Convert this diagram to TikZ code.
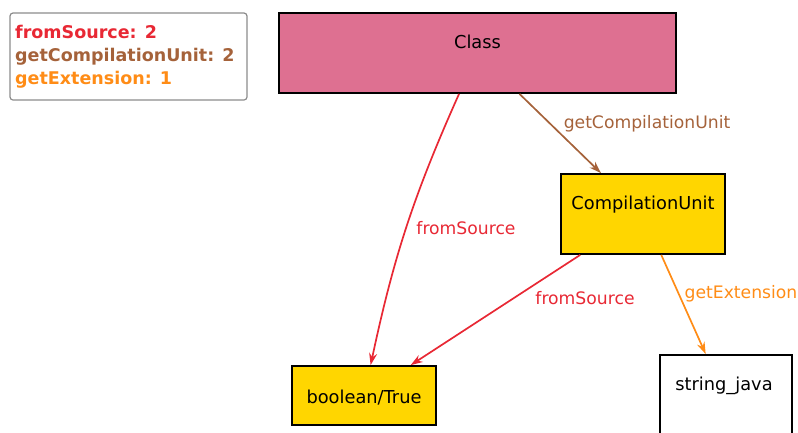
\documentclass[tikz,border=0pt]{standalone}
\usepackage{fontspec}
\setmainfont{DejaVu Sans}
\usetikzlibrary{arrows.meta,calc}
\definecolor{cred}{RGB}{232,40,52}
\definecolor{cbrown}{RGB}{165,98,58}
\definecolor{corange}{RGB}{255,140,22}
\definecolor{cpink}{RGB}{222,112,145}
\definecolor{cgold}{RGB}{255,214,0}
\definecolor{cgrey}{RGB}{140,140,140}
\begin{document}
\begin{tikzpicture}[x=1pt,y=-1pt,
  box/.style={draw=black,line width=1.8pt,inner sep=0pt,minimum width=#1},
  txt/.style={anchor=base,inner sep=0pt,font=\fontsize{17.8}{20}\selectfont},
  elab/.style={anchor=base,inner sep=0pt,font=\fontsize{17.2}{20}\selectfont},
  leg/.style={anchor=base west,inner sep=0pt,font=\fontsize{17.5}{20}\selectfont\bfseries},
  edge/.style={line width=1.7pt,-{Stealth[length=12pt,width=8pt]}}]
\useasboundingbox (0,0) rectangle (798,432);
% legend
\node[draw=cgrey,line width=1.2pt,rounded corners=3pt,minimum width=237pt,minimum height=87pt,inner sep=0pt] (legend) at (128.5,56.5) {};
\node[leg,text=cred] (l1) at (15,38.5) {fromSource: 2};
\node[leg,text=cbrown] (l2) at (15,61.5) {getCompilationUnit: 2};
\node[leg,text=corange] (l3) at (15,84) {getExtension: 1};
% nodes
\node[box=397pt,minimum height=80pt,fill=cpink] (class) at (477.5,53) {};
\node[txt] (classtxt) at (477.5,48) {Class};
\node[box=164pt,minimum height=80pt,fill=cgold] (cu) at (643,214) {};
\node[txt] (cutxt) at (643,209.3) {CompilationUnit};
\node[box=144pt,minimum height=59pt,fill=cgold] (bool) at (364,395.5) {};
\node[txt] (booltxt) at (364,403) {boolean/True};
\node[box=132pt,minimum height=89pt,fill=white] (sj) at (726,399.5) {};
\node[txt] (sjtxt) at (724,390) {string\_java};
% edges
\draw[edge,draw=cred] (class) to[bend right=6] (bool);
\draw[edge,draw=cbrown] (class) -- (cu);
\draw[edge,draw=cred] (cu) -- (bool);
\draw[edge,draw=corange] (cu) -- (sj);
% edge labels
\node[elab,text=cred] (e1) at (466,234) {fromSource};
\node[elab,text=cbrown] (e2) at (647,128.3) {getCompilationUnit};
\node[elab,text=cred] (e3) at (585,304) {fromSource};
\node[elab,text=corange] (e4) at (741,298.3) {getExtension};
\end{tikzpicture}
\end{document}
